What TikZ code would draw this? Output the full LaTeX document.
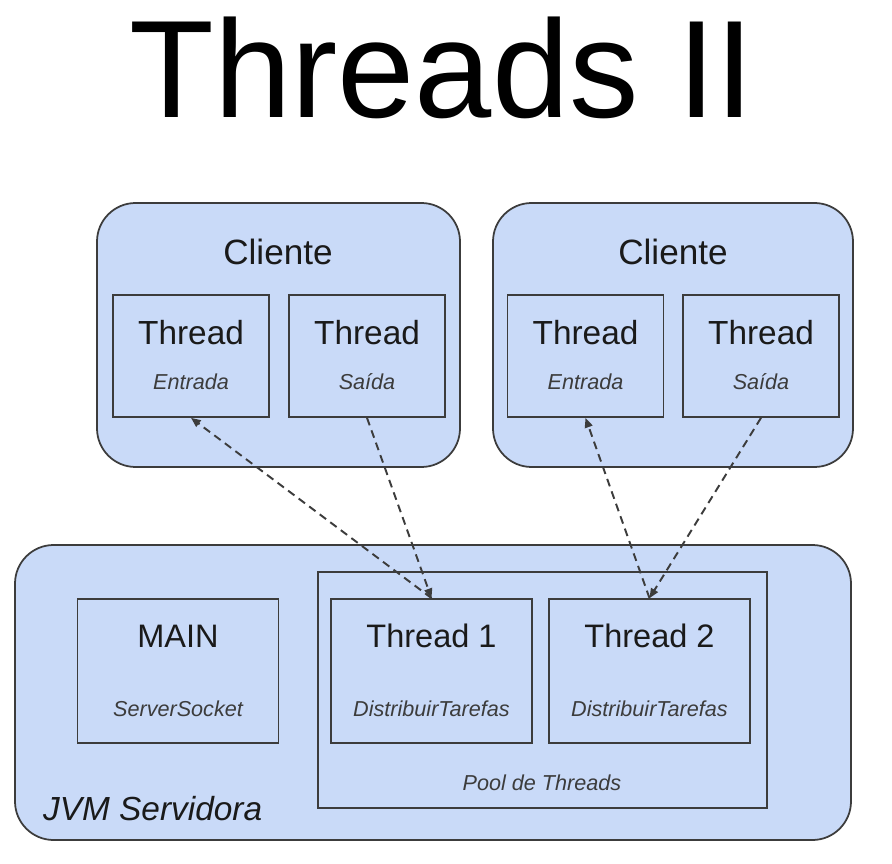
\documentclass[tikz,border=0pt]{standalone}
\usepackage{fontspec}
\setmainfont{Liberation Sans}
\usepackage{tikz}
\usetikzlibrary{arrows.meta,positioning}
\definecolor{boxblue}{HTML}{C9DAF8}
\definecolor{boxline}{HTML}{3C3C3C}
\definecolor{txtdark}{HTML}{1A1A1A}
\tikzset{
  roundbox/.style={draw=boxline, fill=boxblue, line width=1pt, rounded corners=22pt},
  inbox/.style={draw=boxline, fill=boxblue, line width=1pt, minimum width=3.12cm, minimum height=2.44cm, inner sep=0pt},
  srvbox/.style={draw=boxline, fill=boxblue, line width=1pt, minimum width=4.02cm, minimum height=2.88cm, inner sep=0pt},
  bigtxt/.style={anchor=base, text=txtdark, font=\fontsize{19}{22}\selectfont},
  subtxt/.style={anchor=base, text=boxline, font=\itshape\fontsize{12.3}{14}\selectfont},
  link/.style={draw=boxline, line width=1.1pt, dash pattern=on 4.5pt off 3pt, -{Triangle[length=5.5pt,width=4.5pt]}}
}
\begin{document}
\begin{tikzpicture}[x=0.02cm,y=-0.02cm]
  \useasboundingbox (0,0) rectangle (892,864);
  % Title
  \node[anchor=base, font=\fontsize{79}{90}\selectfont] (title) at (442,118) {Threads II};
  % Clients
  \draw[roundbox] (97,203) rectangle (460,467);
  \draw[roundbox] (493,203) rectangle (853,467);
  \node[bigtxt, font=\fontsize{20}{24}\selectfont] (cliL) at (278,265) {Cliente};
  \node[bigtxt, font=\fontsize{20}{24}\selectfont] (cliR) at (673,265) {Cliente};
  \node[inbox] (entL) at (191,356) {};
  \node[inbox] (satL) at (367,356) {};
  \node[inbox] (entR) at (585.5,356) {};
  \node[inbox] (satR) at (761,356) {};
  \foreach \n in {entL,satL,entR,satR}
    \node[bigtxt] at ([yshift=0.24cm]\n.center) {Thread};
  \node[subtxt] at ([yshift=-0.68cm]entL.center) {Entrada};
  \node[subtxt] at ([yshift=-0.68cm]satL.center) {Saída};
  \node[subtxt] at ([yshift=-0.68cm]entR.center) {Entrada};
  \node[subtxt] at ([yshift=-0.68cm]satR.center) {Saída};
  % Server
  \draw[roundbox] (15,545) rectangle (851,840);
  \node[anchor=base west, text=txtdark, font=\itshape\fontsize{19}{22}\selectfont] (jvm) at (37,820) {JVM Servidora};
  \draw[draw=boxline, line width=1pt] (318,572) rectangle (767,808);
  \node[subtxt] (pool) at (542,790) {Pool de Threads};
  \node[srvbox] (main) at (178,671) {};
  \node[srvbox] (thr1) at (431.5,671) {};
  \node[srvbox] (thr2) at (649.5,671) {};
  \node[bigtxt, font=\fontsize{18.5}{22}\selectfont] at (178,647) {MAIN};
  \node[bigtxt, font=\fontsize{18.5}{22}\selectfont] at (431.5,647) {Thread 1};
  \node[bigtxt, font=\fontsize{18.5}{22}\selectfont] at (649.5,647) {Thread 2};
  \node[subtxt] at (178,716) {ServerSocket};
  \node[subtxt] at (431.5,716) {DistribuirTarefas};
  \node[subtxt] at (649.5,716) {DistribuirTarefas};
  % Links
  \draw[link] (thr1.north) -- (entL.south);
  \draw[link] (satL.south) -- (thr1.north);
  \draw[link] (thr2.north) -- (entR.south);
  \draw[link] (satR.south) -- (thr2.north);
\end{tikzpicture}
\end{document}
